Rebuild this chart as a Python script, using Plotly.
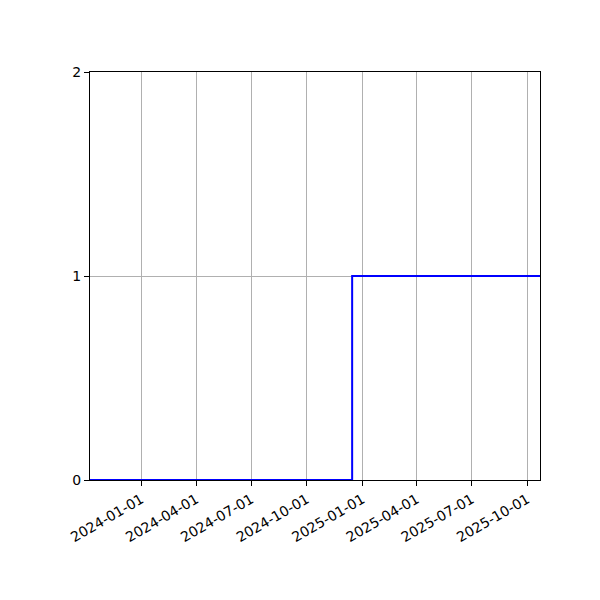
import plotly.graph_objects as go

# step series: value switches from 0 to 1 mid-December 2024
dates = ["2023-10-08", "2024-12-15", "2025-10-22"]
values = [0, 1, 1]

tick_dates = ["2024-01-01", "2024-04-01", "2024-07-01", "2024-10-01",
              "2025-01-01", "2025-04-01", "2025-07-01", "2025-10-01"]
y_ticks = [0, 1, 2]

fig = go.Figure()
fig.add_trace(go.Scatter(
    x=dates, y=values, mode="lines", line_shape="hv",
    line=dict(color="blue", width=2), showlegend=False
))

axis_style = dict(
    showline=True, mirror=True, linecolor="black", linewidth=1,
    ticks="outside", ticklen=5, tickcolor="black",
    showgrid=True, gridcolor="#b0b0b0", gridwidth=1, zeroline=False,
)

# page body adds an 8px offset, so margins are shifted to compensate
fig.update_layout(
    width=600, height=600,
    margin=dict(l=82, r=68, t=64, b=128),
    plot_bgcolor="white", paper_bgcolor="white",
    font=dict(family="DejaVu Sans", size=14, color="black"),
    xaxis=dict(range=[dates[0], dates[-1]], tickmode="array",
               tickvals=tick_dates, ticktext=tick_dates, tickangle=-30,
               **axis_style),
    yaxis=dict(range=[0, 2], tickmode="array", tickvals=y_ticks, **axis_style),
)

fig.write_html("out.html")
